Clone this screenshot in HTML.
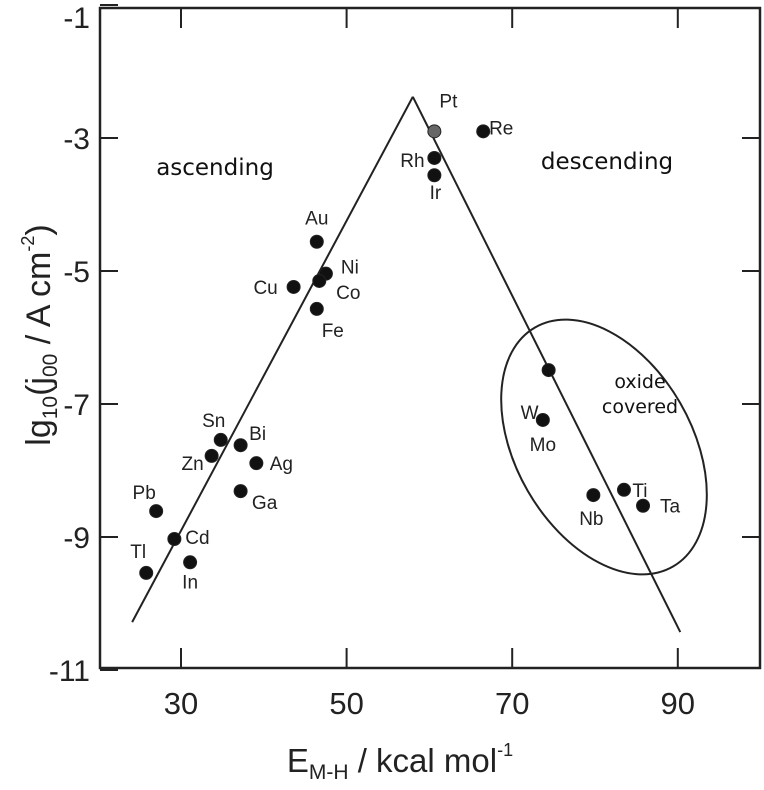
<!DOCTYPE html>
<html><head><meta charset="utf-8"><style>
body{margin:0;background:#fff}
svg{font-family:"Liberation Sans",Arial,sans-serif}
</style></head><body>
<svg width="764" height="785" viewBox="0 0 764 785">
<g id="g"></g>
</svg>
<script>
const xTicks=[30,50,70,90];
const yTicks=[-1,-3,-5,-7,-9,-11];
const names=["Pt","Re","Rh","Ir","Au","Ni","Cu","Co","Fe","W","Mo","Ti","Ta","Nb","Sn","Bi","Zn","Ag","Ga","Pb","Cd","Tl","In"];
const eMH=[60.6,66.5,60.6,60.6,46.4,47.5,43.6,46.7,46.4,74.4,73.7,83.5,85.8,79.8,34.8,37.2,33.7,39.1,37.2,27.0,29.2,25.8,31.1];
const lgj=[-2.9,-2.9,-3.3,-3.56,-4.56,-5.04,-5.24,-5.15,-5.57,-6.49,-7.24,-8.29,-8.53,-8.37,-7.54,-7.62,-7.78,-7.89,-8.31,-8.61,-9.03,-9.54,-9.38];
const labelOff=[[14,-31],[18,-4],[-22,2],[1,17],[0,-24],[24,-7],[-28,0],[29,11],[16,21],[-19,42],[0,24],[16,0],[27,0],[-2,23],[-7,-20],[17,-12],[-19,7],[25,0],[24,11],[-12,-19],[23,-2],[-8,-22],[0,19]];
const ascLine=[[24.1,-10.28],[58.0,-2.38]];
const descLine=[[58.0,-2.38],[90.3,-10.43]];
const X=v=>181+(v-30)*8.28, Y=v=>138+(-3-v)*66.5;
const g=document.getElementById('g');
function mk(t,a,txt){const e=document.createElementNS('http://www.w3.org/2000/svg',t);for(const k in a)e.setAttribute(k,a[k]);if(txt!==undefined)e.textContent=txt;g.appendChild(e);return e;}
let e;
e=mk('rect',{x:100,y:8,width:660,height:660,fill:'none',stroke:'#222','stroke-width':2.5});


xTicks.forEach(t=>{
 e=mk('line',{x1:X(t),x2:X(t),y1:668,y2:648,stroke:'#222','stroke-width':2});
 
 
 mk('line',{x1:X(t),x2:X(t),y1:8,y2:28,stroke:'#222','stroke-width':2});
 e=mk('text',{x:X(t),y:714,'text-anchor':'middle','font-size':31,fill:'#222'},t);
 
 
});
yTicks.forEach(t=>{
 const yy=Math.min(Math.max(Y(t),17),678);
 e=mk('line',{x1:100,x2:118,y1:Y(t),y2:Y(t),stroke:'#222','stroke-width':2});
 
 
 if(t>-11&&t<-1) mk('line',{x1:742,x2:760,y1:Y(t),y2:Y(t),stroke:'#222','stroke-width':2});
 e=mk('text',{x:90,y:yy+11,'text-anchor':'end','font-size':30,fill:'#222'},t);
 
 
});
[ascLine,descLine].forEach((l,i)=>{
 e=mk('line',{x1:X(l[0][0]),y1:Y(l[0][1]),x2:X(l[1][0]),y2:Y(l[1][1]),stroke:'#222','stroke-width':2});
 
 
});
e=mk('ellipse',{cx:604,cy:447,rx:138,ry:88,transform:'rotate(60 604 447)',fill:'none',stroke:'#222','stroke-width':2});


names.forEach((n,i)=>{
 const cx=X(eMH[i]),cy=Y(lgj[i]);
 e=mk('circle',{cx:cx,cy:cy,r:6.5,fill:n==='Pt'?'#666':'#111',stroke:'#222','stroke-width':1});
 
 
 e=mk('text',{x:cx+labelOff[i][0],y:cy+labelOff[i][1]+7,'text-anchor':'middle','font-size':19,fill:'#222'},n);
 
 
});
e=mk('text',{x:215,y:175,'text-anchor':'middle','font-size':23,'font-family':'DejaVu Sans,sans-serif',fill:'#111'},'ascending');


e=mk('text',{x:607,y:169,'text-anchor':'middle','font-size':23,'font-family':'DejaVu Sans,sans-serif',fill:'#111'},'descending');


e=mk('text',{x:640,y:388,'text-anchor':'middle','font-size':19,'font-family':'DejaVu Sans,sans-serif',fill:'#111'},'oxide');


e=mk('text',{x:640,y:413,'text-anchor':'middle','font-size':19,'font-family':'DejaVu Sans,sans-serif',fill:'#111'},'covered');


</script>
<svg style="position:absolute;left:0;top:0" width="764" height="785">
<text x="400" y="772" text-anchor="middle" font-size="33" fill="#222">E<tspan font-size="21" dy="7">M-H</tspan><tspan dy="-7"> / kcal mol</tspan><tspan font-size="18" dy="-16">-1</tspan></text>
<text transform="translate(50,335) rotate(-90)" text-anchor="middle" font-size="34" fill="#222">lg<tspan font-size="21" dy="7">10</tspan><tspan dy="-7">(j</tspan><tspan font-size="21" dy="7">00</tspan><tspan dy="-7"> / A cm</tspan><tspan font-size="18" dy="-16">-2</tspan><tspan dy="16">)</tspan></text>
</svg>
</body></html>
